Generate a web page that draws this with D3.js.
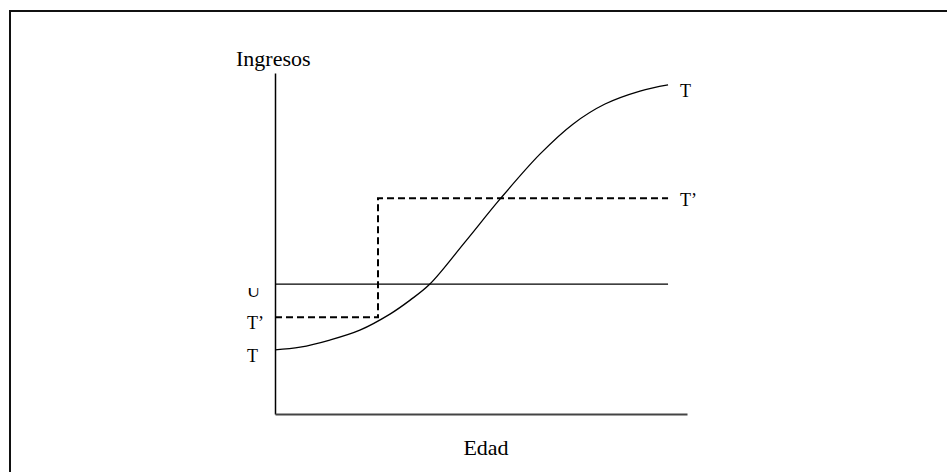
<!DOCTYPE html>
<html>
<head>
<meta charset="utf-8">
<script src="https://cdn.jsdelivr.net/npm/d3@7"></script>
<style>
  html, body { margin: 0; padding: 0; background: #fff; }
  svg { display: block; }
</style>
</head>
<body>
<svg id="chart" width="947" height="472"></svg>
<script>
// edad (eje x) y perfiles de ingresos, unidades arbitrarias 0-100
const edad     = [0, 6.1, 13.3, 20.6, 27.9, 32.8, 37.6, 46.1, 54.6, 64.3, 72.3, 80.1, 88.6, 95.4];
const ingresoT = [18.8, 19.6, 21.7, 24.6, 29.3, 33.4, 38.1, 50.4, 63.0, 76.2, 85.0, 90.9, 94.7, 96.5];

// contrato con tramo (T'): nivel bajo, salto, nivel alto
const edadSalto = 25;
const tPrimaBajo = 28.4;
const tPrimaAlto = 63.3;
// ingreso constante U
const ingresoU = 38.1;
const edadFin = 95.4;

const svg = d3.select("#chart");
const font = "'Liberation Serif', 'Times New Roman', Times, 'DejaVu Serif', serif";

const x = d3.scaleLinear().domain([0, 100]).range([275, 687]);
const y = d3.scaleLinear().domain([0, 100]).range([414, 73]);

// marco
svg.append("path")
  .attr("d", "M10,472V11H947")
  .attr("fill", "none")
  .attr("stroke", "#111")
  .attr("stroke-width", 2);

// ejes sin marcas
svg.append("g")
  .attr("transform", `translate(${x(0)},0)`)
  .call(d3.axisLeft(y).tickValues([]).tickSizeOuter(0))
  .select(".domain").attr("stroke", "#000").attr("stroke-width", 1.5);

svg.append("g")
  .attr("transform", `translate(0,${y(0)})`)
  .call(d3.axisBottom(x).tickValues([]).tickSizeOuter(0))
  .select(".domain").attr("stroke", "#444").attr("stroke-width", 2.2);

// linea U
svg.append("line")
  .attr("x1", x(0)).attr("x2", x(edadFin))
  .attr("y1", y(ingresoU)).attr("y2", y(ingresoU))
  .attr("stroke", "#000").attr("stroke-width", 1.3);

// T' escalonado
const tPrima = [[0, tPrimaBajo], [edadSalto, tPrimaBajo], [edadSalto, tPrimaAlto], [edadFin, tPrimaAlto]];
svg.append("path")
  .attr("d", d3.line().x(d => x(d[0])).y(d => y(d[1]))(tPrima))
  .attr("fill", "none")
  .attr("stroke", "#000")
  .attr("stroke-width", 2)
  .attr("stroke-dasharray", "7,4");

// curva T
svg.append("path")
  .attr("d", d3.line()
    .x((d, i) => x(edad[i]))
    .y(d => y(d))
    .curve(d3.curveCatmullRom.alpha(0.5))(ingresoT))
  .attr("fill", "none")
  .attr("stroke", "#000")
  .attr("stroke-width", 1.3);

// textos
const txt = (s, px, py, size, anchor) => svg.append("text")
  .attr("x", px).attr("y", py)
  .attr("font-family", font)
  .attr("font-size", size)
  .attr("text-anchor", anchor || "start")
  .text(s);

txt("Ingresos", 236, 66, 22);
txt("Edad", 486, 455, 22, "middle");

// U aparece recortada por arriba
svg.append("clipPath").attr("id", "clipU")
  .append("rect").attr("x", 240).attr("y", 288).attr("width", 30).attr("height", 20);
txt("U", 247, 297, 18).attr("clip-path", "url(#clipU)");
txt("T\u2019", 247, 329, 18);
txt("T", 247, 362, 18);
txt("T", 680, 97, 18);
txt("T\u2019", 680, 206, 18);
</script>
</body>
</html>
